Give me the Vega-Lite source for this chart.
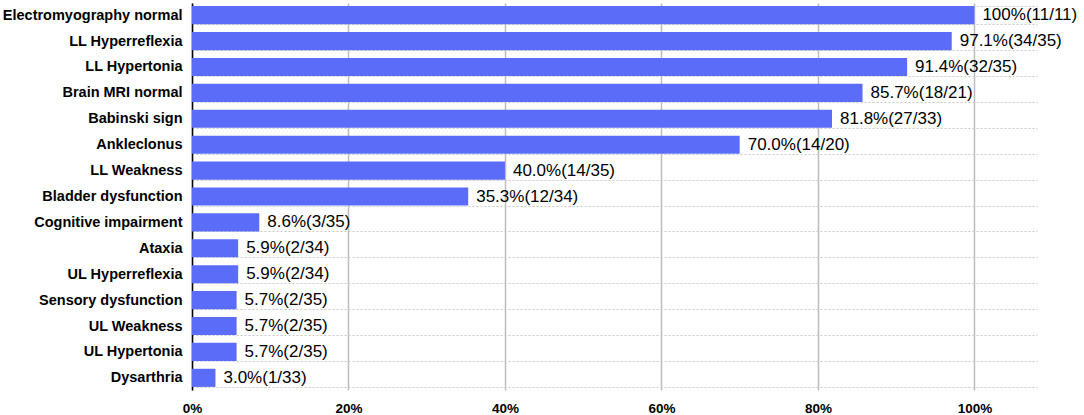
{
  "$schema": "https://vega.github.io/schema/vega-lite/v6.json",
  "width": 845,
  "height": 387,
  "autosize": {"type": "none"},
  "padding": {"left": 192, "top": 3, "right": 47, "bottom": 25},
  "config": {"view": {"stroke": null}, "font": "Liberation Sans"},
  "data": {
    "values": [
      {"label": "Electromyography normal", "pct": 100, "text": "100%(11/11)"},
      {"label": "LL Hyperreflexia", "pct": 97.1, "text": "97.1%(34/35)"},
      {"label": "LL Hypertonia", "pct": 91.4, "text": "91.4%(32/35)"},
      {"label": "Brain MRI  normal", "pct": 85.7, "text": "85.7%(18/21)"},
      {"label": "Babinski sign", "pct": 81.8, "text": "81.8%(27/33)"},
      {"label": "Ankleclonus", "pct": 70.0, "text": "70.0%(14/20)"},
      {"label": "LL Weakness", "pct": 40.0, "text": "40.0%(14/35)"},
      {"label": "Bladder dysfunction", "pct": 35.3, "text": "35.3%(12/34)"},
      {"label": "Cognitive impairment", "pct": 8.6, "text": "8.6%(3/35)"},
      {"label": "Ataxia", "pct": 5.9, "text": "5.9%(2/34)"},
      {"label": "UL Hyperreflexia", "pct": 5.9, "text": "5.9%(2/34)"},
      {"label": "Sensory dysfunction", "pct": 5.7, "text": "5.7%(2/35)"},
      {"label": "UL Weakness", "pct": 5.7, "text": "5.7%(2/35)"},
      {"label": "UL Hypertonia", "pct": 5.7, "text": "5.7%(2/35)"},
      {"label": "Dysarthria", "pct": 3.0, "text": "3.0%(1/33)"}
    ]
  },
  "encoding": {
    "y": {
      "field": "label",
      "type": "nominal",
      "sort": null,
      "scale": {"paddingInner": 0.3, "paddingOuter": 0.12},
      "axis": {
        "title": null,
        "ticks": false,
        "domainColor": "#000000",
        "domainWidth": 1.5,
        "labelFont": "Liberation Sans",
        "labelFontSize": 14.5,
        "labelFontWeight": "bold",
        "labelColor": "#000000",
        "labelPadding": 10,
        "labelLimit": 190,
        "grid": true,
        "tickBand": "extent",
        "gridColor": "#c8c8c8",
        "gridDash": [2, 2],
        "gridWidth": 1
      }
    },
    "x": {
      "field": "pct",
      "type": "quantitative",
      "scale": {"domain": [0, 108], "nice": false},
      "axis": {
        "title": null,
        "values": [0, 20, 40, 60, 80, 100],
        "labelExpr": "datum.value + '%'",
        "labelFlush": false,
        "domain": false,
        "ticks": false,
        "labelFont": "Liberation Sans",
        "labelFontSize": 13.5,
        "labelFontWeight": "bold",
        "labelColor": "#000000",
        "labelPadding": 11,
        "gridColor": "#bdbdbd",
        "gridWidth": 1.5
      }
    }
  },
  "layer": [
    {"mark": {"type": "bar", "color": "#5b6cf9"}},
    {
      "mark": {"type": "text", "align": "left", "baseline": "middle", "dx": 8, "fontSize": 17, "font": "Liberation Sans", "color": "#000000"},
      "encoding": {"text": {"field": "text"}}
    }
  ]
}
